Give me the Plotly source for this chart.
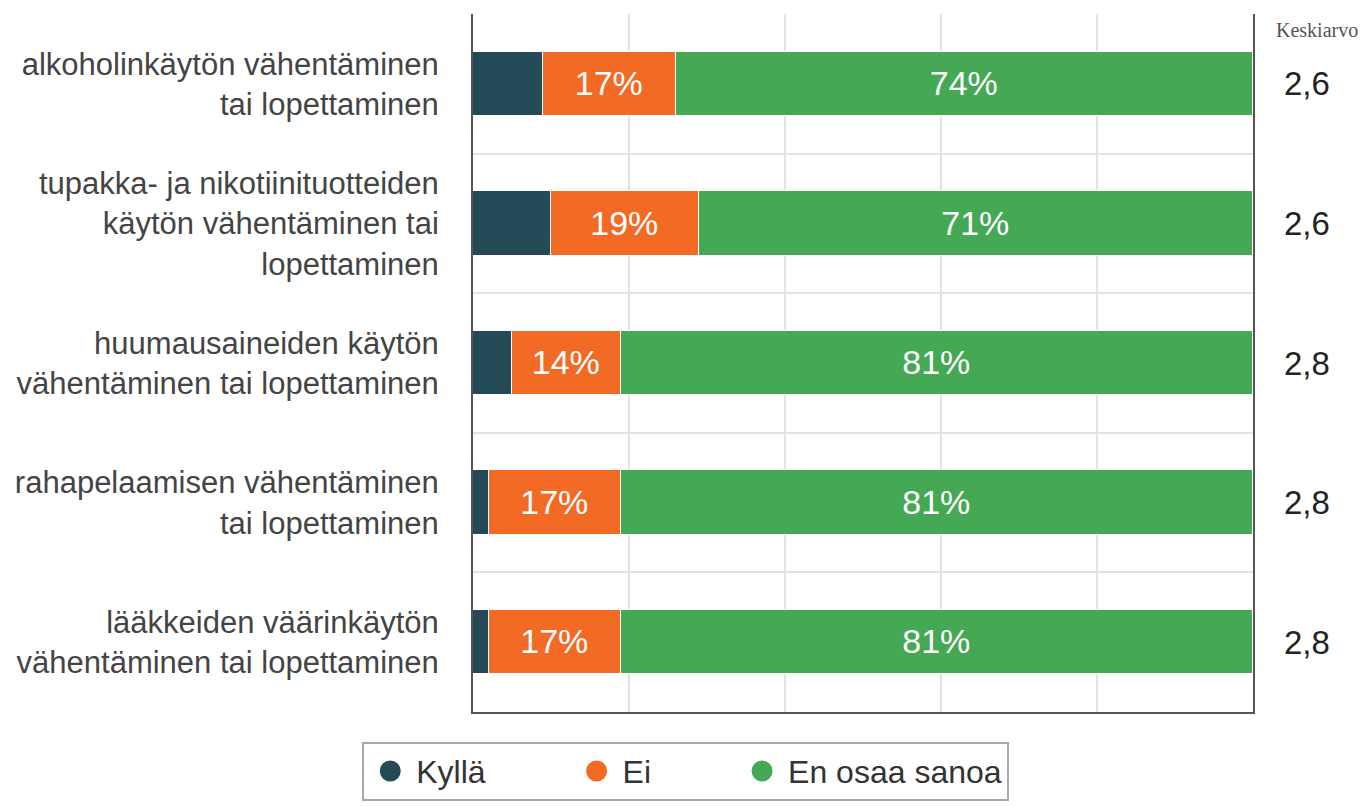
import plotly.graph_objects as go

categories = [
    "alkoholinkäytön vähentäminen<br>tai lopettaminen",
    "tupakka- ja nikotiinituotteiden<br>käytön vähentäminen tai<br>lopettaminen",
    "huumausaineiden käytön<br>vähentäminen tai lopettaminen",
    "rahapelaamisen vähentäminen<br>tai lopettaminen",
    "lääkkeiden väärinkäytön<br>vähentäminen tai lopettaminen",
]
kylla = [9, 10, 5, 2, 2]
ei = [17, 19, 14, 17, 17]
en_osaa = [74, 71, 81, 81, 81]
keskiarvo = ["2,6", "2,6", "2,8", "2,8", "2,8"]

series_names = ["Kyllä", "Ei", "En osaa sanoa"]
colors = ["#244A58", "#F26A24", "#45A854"]

FONT = "Liberation Sans, Arial, sans-serif"
ypos = list(range(len(categories)))
PAD = "\u00a0" * 9  # extra room after legend texts, like the original

fig = go.Figure()
for k, (name, vals, col) in enumerate(zip(series_names, [kylla, ei, en_osaa], colors)):
    fig.add_trace(go.Bar(
        y=ypos,
        x=vals,
        orientation="h",
        width=0.46,
        name=name,
        marker=dict(color=col, line=dict(color="white", width=1.5)),
        text=[f"{v}%" for v in vals] if k > 0 else None,
        textposition="inside",
        insidetextanchor="middle",
        textangle=0,
        constraintext="none",
        textfont=dict(color="white", size=34, family=FONT),
        showlegend=False,
        hovertemplate="%{x}%<extra>" + name + "</extra>",
    ))
    # legend entry with round marker (stroke makes the dot look bigger)
    fig.add_trace(go.Scatter(
        x=[None], y=[None], mode="markers",
        name=name + (PAD if k < len(series_names) - 1 else ""),
        marker=dict(color=col, size=16, symbol="circle", line=dict(color=col, width=5)),
    ))

for i, val in enumerate(keskiarvo):
    fig.add_annotation(x=1.069, y=i, xref="paper", yref="y", text=val,
                       xanchor="center", yanchor="middle",
                       showarrow=False, font=dict(size=33, color="#222222", family=FONT))
fig.add_annotation(x=1.082, y=0.977, xref="paper", yref="paper", text="Keskiarvo",
                   xanchor="center", yanchor="middle",
                   showarrow=False, font=dict(size=20, color="#555555",
                                             family="Liberation Serif, Times New Roman, serif"))

fig.update_layout(
    width=1358, height=798,
    margin=dict(l=465, r=113, t=6, b=93),
    plot_bgcolor="white", paper_bgcolor="white",
    barmode="stack",
    bargap=0,
    font=dict(family=FONT, color="#444444"),
    legend=dict(
        orientation="h", x=-0.142, xanchor="left",
        y=-0.041, yanchor="top", traceorder="normal",
        font=dict(size=32, color="#333333", family=FONT),
        bordercolor="#A8A8A8", borderwidth=2, bgcolor="white",
        itemsizing="trace", itemwidth=42,
    ),
    xaxis=dict(
        range=[0, 100], dtick=20, showticklabels=False, ticks="",
        showgrid=True, gridcolor="#E3E3E3", gridwidth=2,
        showline=True, linecolor="#555555", linewidth=2,
        zeroline=False, fixedrange=True,
    ),
    yaxis=dict(
        range=[len(categories) - 0.5, -0.5],
        tickmode="array", tickvals=ypos, ticktext=categories,
        tickfont=dict(size=31, color="#444444", family=FONT),
        ticks="", ticklabelstandoff=26,
        showgrid=False, zeroline=False,
        showline=True, mirror=True, linecolor="#555555", linewidth=2,
        minor=dict(tickvals=[i - 0.5 for i in range(len(categories) + 1)],
                   showgrid=True, gridcolor="#E3E3E3", gridwidth=2, ticks=""),
        fixedrange=True,
    ),
)

fig.write_html("out.html")
